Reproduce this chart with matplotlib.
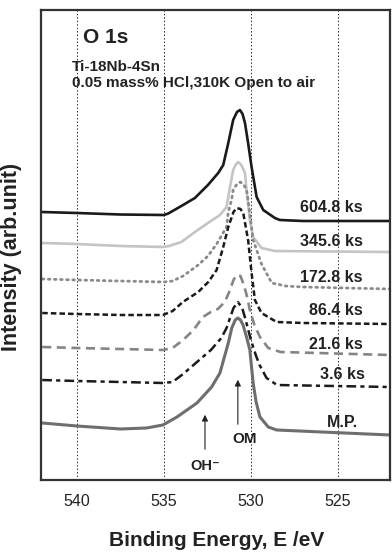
import matplotlib
matplotlib.use("Agg")
import matplotlib.pyplot as plt

plt.rcParams['font.family'] = ['Liberation Sans', 'DejaVu Sans']
plt.rcParams['lines.scale_dashes'] = False

# binding energy (eV) and intensity (arb. unit)
e_604 = [542.0, 540.0, 537.5, 535.0, 534.75, 534.5, 534.0, 533.22, 532.47, 531.88, 531.59, 531.3,
         531.02, 530.8, 530.63, 530.48, 530.34, 530.16, 529.96, 529.67, 529.29, 528.62, 528.33,
         527.0, 522.0]
i_604 = [268, 267, 265.5, 265, 266.5, 269, 274, 282, 295, 307, 315, 337,
         360, 368, 370, 366, 357, 337, 313, 283, 270, 262, 260,
         259, 259]

e_345 = [542.0, 540.0, 537.5, 535.06, 534.7, 534.0, 533.22, 532.47, 531.78, 531.4, 531.2, 531.02,
         530.85, 530.73, 530.55, 530.34, 530.25, 530.06, 529.87, 529.39, 528.62, 522.0]
i_345 = [237, 236, 234, 233, 234, 238, 248, 257, 265, 273, 293, 310,
         316, 318, 315, 307, 290, 260, 243, 232, 229, 228]

e_172 = [542.0, 540.0, 537.5, 535.0, 534.5, 533.9, 533.03, 532.47, 531.97, 531.4, 531.3, 531.11,
         531.02, 530.8, 530.6, 530.4, 530.25, 530.16, 529.87, 529.39, 528.8, 528.0, 527.0, 522.0]
i_172 = [201, 200, 199, 198, 199, 204, 215, 224, 236, 253, 268, 280,
         290, 296, 298, 295, 290, 280, 240, 216, 197, 194, 193, 191]

e_86 = [542.0, 540.0, 537.5, 535.06, 534.5, 533.91, 533.03, 532.45, 531.97, 531.59, 531.3, 531.0,
        530.82, 530.6, 530.44, 530.16, 529.96, 529.77, 529.39, 528.52, 527.0, 522.0]
i_86 = [167, 166, 165, 165, 169, 178, 188, 198, 210, 233, 253, 268,
        272, 271, 267, 240, 207, 180, 167, 158, 157, 156]

e_21 = [542.0, 540.0, 537.5, 535.06, 534.5, 533.9, 533.3, 532.76, 532.3, 531.9, 531.5, 531.2,
        531.0, 530.82, 530.6, 530.4, 530.2, 530.06, 529.8, 529.48, 529.0, 528.3, 522.0]
i_21 = [133, 132, 131, 130, 132, 140, 150, 163, 168, 171, 178, 190,
        200, 205, 204, 195, 182, 170, 155, 143, 132, 128, 125]

e_3 = [542.0, 540.0, 537.5, 535.06, 534.5, 533.9, 533.1, 532.3, 531.7, 531.4, 531.2, 531.0,
       530.75, 530.5, 530.3, 530.0, 529.7, 529.5, 529.1, 528.5, 522.0]
i_3 = [100, 99, 98, 97, 98, 106, 118, 130, 142, 152, 162, 172,
       178, 172, 160, 140, 124, 115, 102, 95, 93]

e_mp = [542.0, 540.0, 537.5, 536.0, 535.06, 534.25, 533.1, 532.26, 531.78, 531.3, 531.1, 530.9,
        530.75, 530.6, 530.45, 530.25, 530.06, 529.87, 529.7, 529.48, 529.0, 528.52, 522.0]
i_mp = [57, 54, 51, 52, 55, 63, 77, 93, 107, 137, 152, 160,
        162, 160, 155, 143, 130, 97, 78, 63, 53, 50, 45]

labels = ['604.8 ks', '345.6 ks', '172.8 ks', '86.4 ks', '21.6 ks', '3.6 ks', 'M.P.']
label_e = [523.56, 523.56, 523.56, 523.56, 523.56, 523.45, 523.85]
label_i = [273, 239, 203, 169, 135, 105, 57]

fig = plt.figure(figsize=(3.92, 5.56), dpi=100)
ax = fig.add_axes([0.1046, 0.1367, 0.8903, 0.8453])

ax.plot(e_604, i_604, color='#1a1a1a', lw=1.9, solid_joinstyle='round')
ax.plot(e_345, i_345, color='#c4c4c4', lw=1.9, solid_joinstyle='round')
ax.plot(e_172, i_172, color='#8a8a8a', lw=2.0, linestyle=(0, (1.2, 3.2)), dash_capstyle='round')
ax.plot(e_86, i_86, color='#1a1a1a', lw=1.8, linestyle=(0, (4, 2.2)))
ax.plot(e_21, i_21, color='#858585', lw=1.9, linestyle=(0, (6.5, 4)))
ax.plot(e_3, i_3, color='#1a1a1a', lw=1.8, linestyle=(0, (7, 3, 3, 3)))
ax.plot(e_mp, i_mp, color='#6e6e6e', lw=2.2, solid_joinstyle='round')

for lab, x, y in zip(labels, label_e, label_i):
    ax.text(x, y, lab, ha='right', va='center', fontsize=11.5, fontweight='bold', color='#222222')

ax.text(539.66, 443, 'O 1s', ha='left', va='center', fontsize=15, fontweight='bold', color='#222222')
ax.text(540.29, 413, 'Ti-18Nb-4Sn', ha='left', va='center', fontsize=11, fontweight='bold', color='#222222')
ax.text(540.29, 397, '0.05 mass% HCl,310K Open to air', ha='left', va='center', fontsize=11,
        fontweight='bold', color='#222222')

ax.annotate('', xy=(532.64, 68), xytext=(532.64, 28),
            arrowprops=dict(arrowstyle='-|>', color='#222222', lw=0.8, mutation_scale=9))
ax.annotate('', xy=(530.75, 103), xytext=(530.75, 53),
            arrowprops=dict(arrowstyle='-|>', color='#222222', lw=0.8, mutation_scale=9))
ax.text(532.64, 14, 'OH\u207b', ha='center', va='center', fontsize=10.5, fontweight='bold',
        color='#222222', family=['Liberation Sans', 'DejaVu Sans'])
ax.text(530.34, 41, 'OM', ha='center', va='center', fontsize=11, fontweight='bold', color='#222222')

ax.set_xlim(542.07, 522.0)
ax.set_ylim(0, 470)
ax.set_xticks([540, 535, 530, 525])
ax.set_yticks([])
ax.tick_params(axis='x', length=0, pad=10, labelsize=11.5, colors='#222222')
ax.grid(axis='x', color='#222222', linestyle=(0, (1, 1.5)), lw=0.7)
for s in ax.spines.values():
    s.set_linewidth(1.6)
    s.set_color('#333333')

fig.text(216.5 / 392, 1 - 540 / 556, 'Binding Energy, E /eV', ha='center', va='center',
         fontsize=15, fontweight='bold', color='#222222')
fig.text(12 / 392, 1 - 257 / 556, 'Intensity (arb.unit)', ha='center', va='center', rotation=90,
         fontsize=15.5, fontweight='bold', color='#222222')

fig.savefig('out.png', dpi=100)
